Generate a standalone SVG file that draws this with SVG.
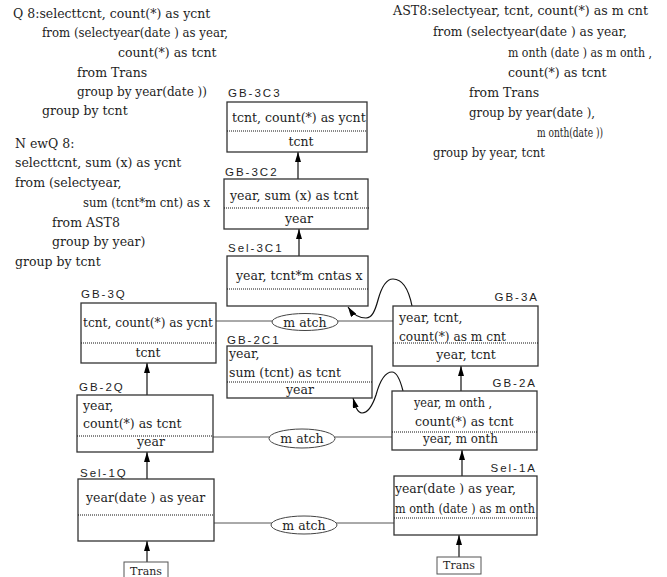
<svg xmlns="http://www.w3.org/2000/svg" width="667" height="577" viewBox="0 0 667 577">
<style>
  .t { font-family: "DejaVu Serif", "Liberation Serif", serif; font-size: 12.5px; fill: #1e1e1e; }
  .sm { font-size: 12px; }
  .lbl { font-family: "Liberation Sans", Arial, sans-serif; font-size: 11.5px; letter-spacing: 2px; fill: #1e1e1e; }
  .mid { text-anchor: middle; }
  .end { text-anchor: end; }
  .box { fill: #fff; stroke: #333; stroke-width: 1.3; }
  .dot { stroke: #111; stroke-width: 1; stroke-dasharray: 1 1; fill: none; }
  .link { stroke: #555; stroke-width: 1; fill: none; }
  .arr { stroke: #111; stroke-width: 1.2; fill: none; marker-end: url(#ah); }
  .ell { fill: #fff; stroke: #444; stroke-width: 1; }
  .tr { fill: #fff; stroke: #555; stroke-width: 1; }
  .tt { font-family: "DejaVu Serif", "Liberation Serif", serif; font-size: 11px; fill: #1e1e1e; text-anchor: middle; }
</style>
<defs>
  <marker id="ah" viewBox="0 0 10 6" refX="10" refY="3" markerWidth="10" markerHeight="6" markerUnits="userSpaceOnUse" orient="auto">
    <path d="M0,0 L10,3 L0,6 z" fill="#000"/>
  </marker>
</defs>
<rect width="667" height="577" fill="#fff"/>

<!-- Query texts -->
<g id="q8">
  <text class="t" x="13" y="18">Q 8:selecttcnt, count(*) as ycnt</text>
  <text class="t" x="42" y="37" textLength="186" lengthAdjust="spacingAndGlyphs">from  (selectyear(date ) as year,</text>
  <text class="t" x="118" y="57">count(*) as tcnt</text>
  <text class="t" x="77" y="77">from  Trans</text>
  <text class="t" x="77" y="96" textLength="130" lengthAdjust="spacingAndGlyphs">group by year(date ))</text>
  <text class="t" x="42" y="115">group by tcnt</text>
</g>
<g id="newq8">
  <text class="t" x="15" y="148">N ewQ 8:</text>
  <text class="t" x="15" y="167">selecttcnt, sum (x) as ycnt</text>
  <text class="t" x="15" y="187">from  (selectyear,</text>
  <text class="t" x="83" y="207" textLength="127" lengthAdjust="spacingAndGlyphs">sum (tcnt*m cnt) as x</text>
  <text class="t" x="52" y="227">from  AST8</text>
  <text class="t" x="52" y="246">group by year)</text>
  <text class="t" x="15" y="266">group by tcnt</text>
</g>
<g id="ast8">
  <text class="t" x="393" y="15" textLength="255" lengthAdjust="spacingAndGlyphs">AST8:selectyear, tcnt, count(*) as m cnt</text>
  <text class="t" x="433" y="36" textLength="194" lengthAdjust="spacingAndGlyphs">from  (selectyear(date ) as year,</text>
  <text class="t sm" x="508" y="57" textLength="144" lengthAdjust="spacingAndGlyphs">m onth (date ) as m onth ,</text>
  <text class="t" x="508" y="77">count(*) as tcnt</text>
  <text class="t" x="469" y="97">from  Trans</text>
  <text class="t" x="469" y="117" textLength="126" lengthAdjust="spacingAndGlyphs">group by year(date ),</text>
  <text class="t sm" x="537" y="137" textLength="66" lengthAdjust="spacingAndGlyphs">m onth(date ))</text>
  <text class="t" x="433" y="157" textLength="112" lengthAdjust="spacingAndGlyphs">group by year, tcnt</text>
</g>

<!-- Connectors -->
<g id="connectors">
  <line class="link" x1="216" y1="321" x2="393" y2="321"/>
  <line class="link" x1="213" y1="437" x2="392" y2="437"/>
  <line class="link" x1="214" y1="523" x2="394" y2="523"/>
  <line class="arr" x1="147" y1="562" x2="147" y2="541"/>
  <line class="arr" x1="147" y1="479" x2="147" y2="452"/>
  <line class="arr" x1="147" y1="395" x2="147" y2="363"/>
  <line class="arr" x1="459" y1="557" x2="459" y2="535"/>
  <line class="arr" x1="462" y1="476" x2="462" y2="450"/>
  <line class="arr" x1="461" y1="391" x2="461" y2="366"/>
  <line class="arr" x1="299" y1="256" x2="299" y2="229"/>
  <line class="arr" x1="298" y1="179" x2="298" y2="152"/>
  <path class="arr" d="M412,306 C408,286 401,279 393,279 C385,279 381,289 378,300 C375,311 372,318 366,318 C358,318 352,313 348,307"/>
  <path class="arr" d="M403,391 C400,379 396,372 392,372 C384,372 379,384 376,395 C372,407 368,413 362,413 C357,413 355,405 353,398"/>
</g>

<!-- Match ellipses -->
<g id="match1">
  <ellipse class="ell" cx="305" cy="322" rx="33" ry="8.5"/>
  <text class="t mid" x="305" y="327">m atch</text>
</g>
<g id="match2">
  <ellipse class="ell" cx="302" cy="438.5" rx="33" ry="9.5"/>
  <text class="t mid" x="302" y="443">m atch</text>
</g>
<g id="match3">
  <ellipse class="ell" cx="304" cy="525" rx="33" ry="9"/>
  <text class="t mid" x="304" y="530">m atch</text>
</g>

<!-- Nodes -->
<g id="gb3c3">
  <text class="lbl" x="228" y="97">GB-3C3</text>
  <rect class="box" x="227" y="102" width="140" height="50"/>
  <line class="dot" x1="227" y1="131" x2="367" y2="131"/>
  <text class="t" x="232" y="122">tcnt, count(*) as ycnt</text>
  <text class="t mid" x="301" y="146">tcnt</text>
</g>
<g id="gb3c2">
  <text class="lbl" x="225" y="176">GB-3C2</text>
  <rect class="box" x="224" y="179" width="144" height="50"/>
  <line class="dot" x1="224" y1="208" x2="370" y2="208"/>
  <text class="t" x="230" y="200">year, sum (x) as tcnt</text>
  <text class="t mid" x="299" y="223">year</text>
</g>
<g id="sel3c1">
  <text class="lbl" x="228" y="252">Sel-3C1</text>
  <rect class="box" x="227" y="256" width="141" height="50"/>
  <line class="dot" x1="227" y1="289" x2="368" y2="289"/>
  <text class="t" x="236" y="280">year, tcnt*m cntas x</text>
</g>
<g id="gb3q">
  <text class="lbl" x="81" y="298">GB-3Q</text>
  <rect class="box" x="81" y="303" width="135" height="60"/>
  <line class="dot" x1="81" y1="343" x2="216" y2="343"/>
  <text class="t" x="83" y="327" textLength="130" lengthAdjust="spacingAndGlyphs">tcnt, count(*) as ycnt</text>
  <text class="t mid" x="148" y="357">tcnt</text>
</g>
<g id="gb2c1">
  <text class="lbl" x="227" y="344">GB-2C1</text>
  <rect class="box" x="227" y="346" width="145" height="52"/>
  <line class="dot" x1="227" y1="382" x2="372" y2="382"/>
  <text class="t" x="229" y="358">year,</text>
  <text class="t" x="229" y="377">sum (tcnt) as tcnt</text>
  <text class="t mid" x="300" y="394">year</text>
</g>
<g id="gb3a">
  <text class="lbl end" x="539" y="301">GB-3A</text>
  <rect class="box" x="393" y="306" width="145" height="60"/>
  <line class="dot" x1="393" y1="343" x2="538" y2="343"/>
  <text class="t" x="399" y="322">year, tcnt,</text>
  <text class="t" x="399" y="341" textLength="107" lengthAdjust="spacingAndGlyphs">count(*) as m cnt</text>
  <text class="t mid" x="466" y="359">year, tcnt</text>
</g>
<g id="gb2a">
  <text class="lbl end" x="537" y="387">GB-2A</text>
  <rect class="box" x="392" y="391" width="145" height="59"/>
  <line class="dot" x1="392" y1="432" x2="537" y2="432"/>
  <text class="t" x="414" y="407" textLength="78" lengthAdjust="spacingAndGlyphs">year, m onth ,</text>
  <text class="t" x="415" y="426">count(*) as tcnt</text>
  <text class="t" x="423" y="443" textLength="75" lengthAdjust="spacingAndGlyphs">year, m onth</text>
</g>
<g id="sel1a">
  <text class="lbl end" x="537" y="472">Sel-1A</text>
  <rect class="box" x="394" y="476" width="143" height="59"/>
  <line class="dot" x1="394" y1="518" x2="537" y2="518"/>
  <text class="t" x="395" y="493" textLength="121" lengthAdjust="spacingAndGlyphs">year(date ) as year,</text>
  <text class="t" x="395" y="513" textLength="140" lengthAdjust="spacingAndGlyphs">m onth (date ) as m onth</text>
</g>
<g id="gb2q">
  <text class="lbl" x="79" y="391">GB-2Q</text>
  <rect class="box" x="77" y="395" width="136" height="57"/>
  <line class="dot" x1="77" y1="436" x2="213" y2="436"/>
  <text class="t" x="83" y="410">year,</text>
  <text class="t" x="83" y="428">count(*) as tcnt</text>
  <text class="t mid" x="151" y="446">year</text>
</g>
<g id="sel1q">
  <text class="lbl" x="80" y="477">Sel-1Q</text>
  <rect class="box" x="78" y="479" width="136" height="62"/>
  <line class="dot" x1="78" y1="515" x2="214" y2="515"/>
  <text class="t" x="86" y="502">year(date ) as year</text>
</g>
<g id="trans-left">
  <rect class="tr" x="124" y="562" width="44" height="20"/>
  <text class="tt" x="146" y="575">Trans</text>
</g>
<g id="trans-right">
  <rect class="tr" x="437" y="557" width="44" height="17"/>
  <text class="tt" x="459" y="569">Trans</text>
</g>
</svg>
